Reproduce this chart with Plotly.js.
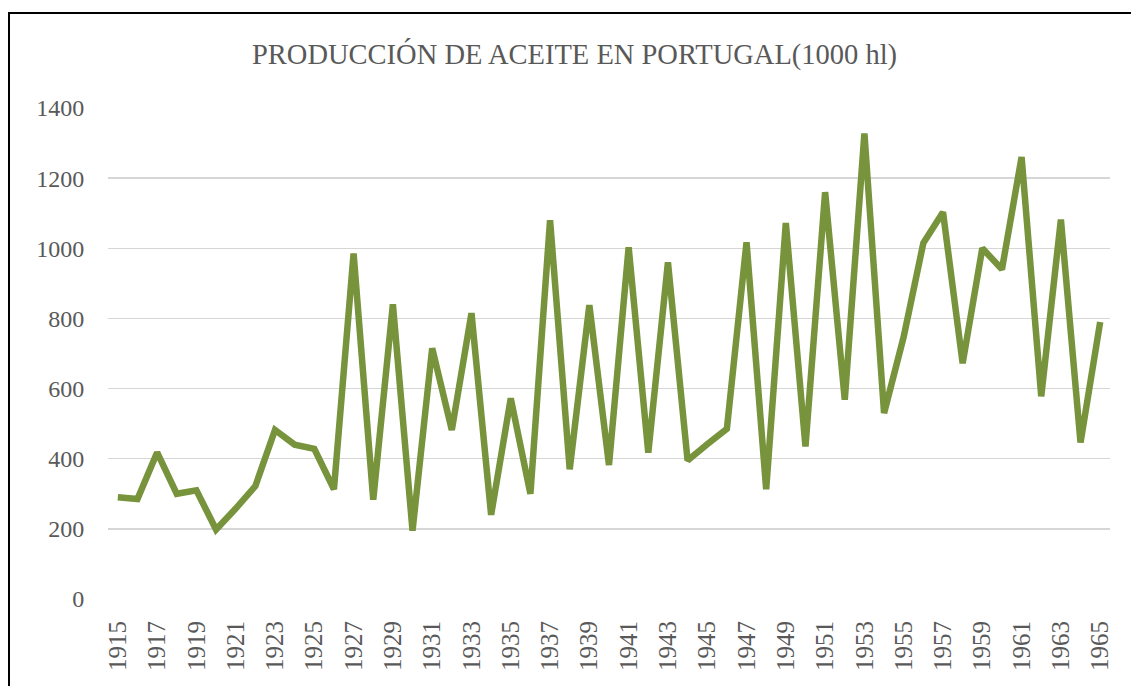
<!DOCTYPE html>
<html>
<head>
<meta charset="utf-8">
<script src="https://cdn.plot.ly/plotly-3.0.1.min.js"></script>
<style>
  html, body { margin: 0; padding: 0; background: #fff; overflow: hidden; }
  #chart { width: 1131px; height: 686px; position: absolute; left: 0; top: 0; }
  #frame { position: absolute; left: 8px; top: 12px; width: 1200px; height: 800px;
           border-top: 2px solid #000; border-left: 2px solid #000; pointer-events: none; }
</style>
</head>
<body>
<div id="chart"></div>
<div id="frame"></div>
<script>
const years = [1915,1916,1917,1918,1919,1920,1921,1922,1923,1924,1925,1926,1927,1928,1929,1930,
  1931,1932,1933,1934,1935,1936,1937,1938,1939,1940,1941,1942,1943,1944,1945,1946,1947,1948,1949,1950,
  1951,1952,1953,1954,1955,1956,1957,1958,1959,1960,1961,1962,1963,1964,1965];
const production = [290,285,418,300,310,198,258,322,482,440,428,313,985,283,840,195,
  715,482,815,240,572,300,1080,370,838,382,1003,417,960,395,441,485,1017,313,1072,435,
  1160,568,1327,530,748,1015,1103,672,1000,940,1260,578,1082,446,790];
const tickYears = [1915,1917,1919,1921,1923,1925,1927,1929,1931,1933,1935,1937,1939,1941,1943,
  1945,1947,1949,1951,1953,1955,1957,1959,1961,1963,1965];
const yTicks = [0,200,400,600,800,1000,1200,1400];
const titleText = "PRODUCCIÓN DE ACEITE EN PORTUGAL(1000 hl)";

const serif = "Liberation Serif, Times New Roman, serif";
const gray = "#595959";

Plotly.newPlot("chart", [{
  x: years, y: production, type: "scatter", mode: "lines",
  line: { color: "#77933C", width: 6.5 },
  hoverinfo: "x+y"
}], {
  width: 1131, height: 686,
  margin: { l: 108, r: 21, t: 108, b: 87 },
  paper_bgcolor: "#fff", plot_bgcolor: "#fff",
  showlegend: false,
  title: { text: titleText, x: 0.508, xanchor: "center", y: 0.921, yanchor: "middle",
           font: { family: serif, size: 28.5, color: gray } },
  xaxis: {
    range: [1914.5, 1965.5], tickvals: tickYears, ticktext: tickYears.map(String),
    tickangle: -90, showgrid: false, zeroline: false, showline: false,
    ticks: "outside", ticklen: 11, tickcolor: "rgba(0,0,0,0)",
    tickfont: { family: serif, size: 25, color: gray }
  },
  yaxis: {
    range: [0, 1400], tickvals: yTicks, ticktext: yTicks.map(String),
    showgrid: true, gridcolor: "#d6d6d6", gridwidth: 1.5, zeroline: false, showline: false,
    ticks: "outside", ticklen: 18, tickcolor: "rgba(0,0,0,0)",
    tickfont: { family: serif, size: 24, color: gray }
  }
}, { staticPlot: true, displayModeBar: false });
</script>
</body>
</html>
